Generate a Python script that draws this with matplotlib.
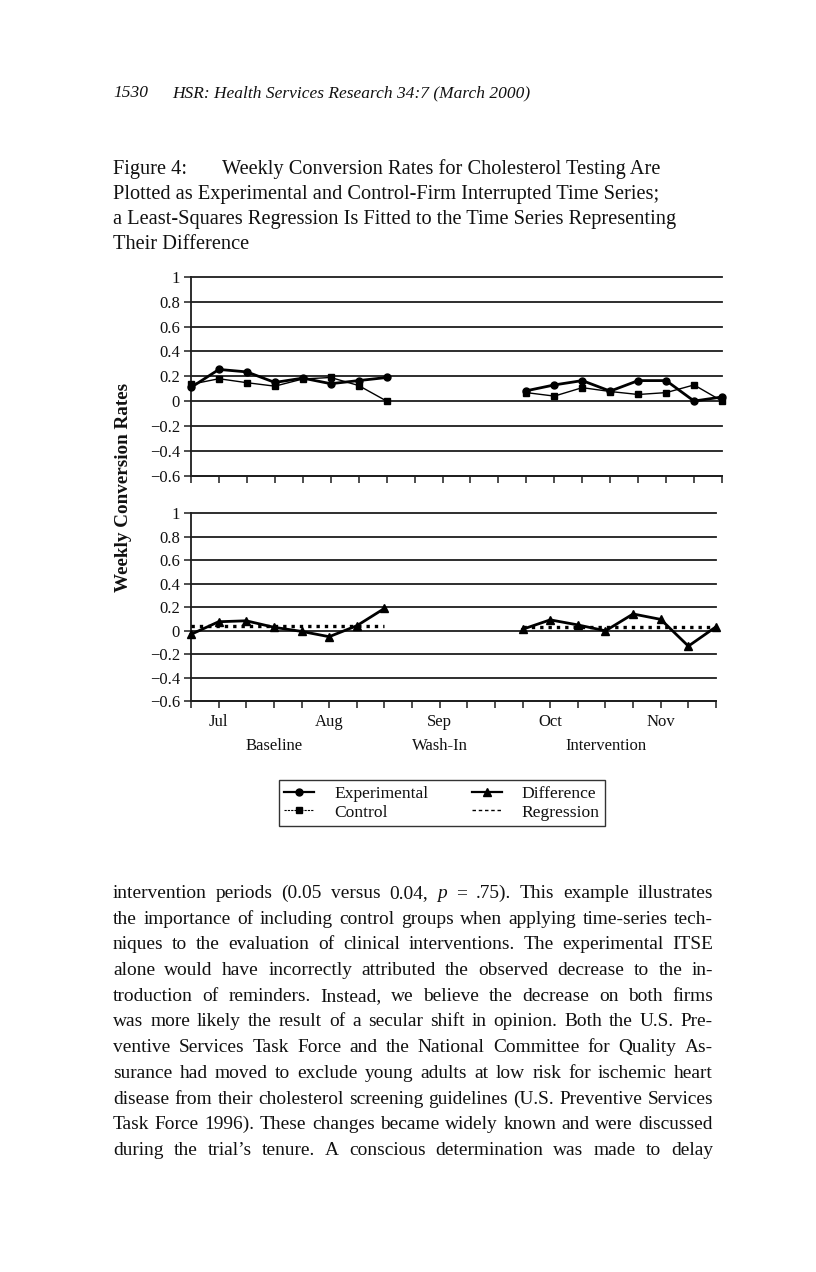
import matplotlib
matplotlib.use('Agg')
import matplotlib.pyplot as plt
import numpy as np
from matplotlib.lines import Line2D
from matplotlib.transforms import blended_transform_factory

W, H = 816, 1272
SERIF = ['Liberation Serif', 'DejaVu Serif']
INK = '#111111'

# ---------------- data ----------------
weeks = list(range(20))
base_weeks = [0, 1, 2, 3, 4, 5, 6, 7]
int_weeks = [12, 13, 14, 15, 16, 17, 18, 19]

exp_base = [0.11, 0.255, 0.235, 0.15, 0.185, 0.14, 0.165, 0.19]
ctrl_base = [0.135, 0.18, 0.148, 0.12, 0.178, 0.19, 0.125, 0.0]
exp_int = [0.083, 0.13, 0.165, 0.08, 0.165, 0.165, 0.0, 0.033]
ctrl_int = [0.068, 0.04, 0.108, 0.077, 0.053, 0.068, 0.13, 0.0]

diff_base = [-0.03, 0.077, 0.085, 0.03, -0.005, -0.05, 0.043, 0.19]
diff_int = [0.013, 0.093, 0.05, 0.0, 0.143, 0.097, -0.13, 0.034]

reg_base_weeks = [0, 7]
reg_base = [0.043, 0.043]
reg_int_weeks = [12, 19]
reg_int = [0.03, 0.03]

month_ticks = [1, 5, 9, 13, 17]
month_names = ['Jul', 'Aug', 'Sep', 'Oct', 'Nov']
phase_ticks = [3, 9, 15]
phase_names = ['Baseline', 'Wash-In', 'Intervention']

y_ticks = [-0.6, -0.4, -0.2, 0.0, 0.2, 0.4, 0.6, 0.8, 1.0]
y_tick_labels = ['\u22120.6', '\u22120.4', '\u22120.2', '0', '0.2', '0.4', '0.6', '0.8', '1']

header_num = '1530'
header_title = 'HSR: Health Services Research 34:7 (March 2000)'
caption_lead = 'Figure 4:'
caption_lines = [
    'Weekly Conversion Rates for Cholesterol Testing Are',
    'Plotted as Experimental and Control-Firm Interrupted Time Series;',
    'a Least-Squares Regression Is Fitted to the Time Series Representing',
    'Their Difference',
]
body_lines = [
    'intervention periods (0.05 versus 0.04, *p* = .75). This example illustrates',
    'the importance of including control groups when applying time-series tech-',
    'niques to the evaluation of clinical interventions. The experimental ITSE',
    'alone would have incorrectly attributed the observed decrease to the in-',
    'troduction of reminders. Instead, we believe the decrease on both firms',
    'was more likely the result of a secular shift in opinion. Both the U.S. Pre-',
    'ventive Services Task Force and the National Committee for Quality As-',
    'surance had moved to exclude young adults at low risk for ischemic heart',
    'disease from their cholesterol screening guidelines (U.S. Preventive Services',
    "Task Force 1996). These changes became widely known and were discussed",
    "during the trial\u2019s tenure. A conscious determination was made to delay",
]

# ---------------- figure ----------------
plt.rcParams['font.family'] = SERIF
plt.rcParams['text.color'] = INK
fig = plt.figure(figsize=(W / 100, H / 100), dpi=100)
fig.patch.set_facecolor('white')
renderer = fig.canvas.get_renderer()


def fx(x):
    return x / W


def fy(y):
    return 1 - y / H


def width_of(s, size, **kw):
    t = fig.text(0, 0, s, fontsize=size, family=SERIF, **kw)
    w = t.get_window_extent(renderer).width
    t.remove()
    return w


def put(s, x, ybase, size, **kw):
    return fig.text(fx(x), fy(ybase), s, fontsize=size, family=SERIF,
                    ha='left', va='baseline', color=INK, **kw)


# header
hsize = 13.0 * 355 / width_of(header_title, 13.0, style='italic')
put(header_num, 113, 97, hsize, style='italic')
put(header_title, 172, 97, hsize, style='italic')

# caption
csize = 14.0 * 565 / width_of(caption_lines[2], 14.0)
cap_base = [174, 199, 224, 249]
put(caption_lead, 113, cap_base[0], csize)
put(caption_lines[0], 222, cap_base[0], csize)
for line, yb in zip(caption_lines[1:], cap_base[1:]):
    put(line, 113, yb, csize)

# body text, justified
x0, x1 = 113, 713
maxw = max(width_of(l.replace('*', ''), 14.0) for l in body_lines)
bsize = min(14.2, 14.0 * 600 / maxw)
for i, line in enumerate(body_lines):
    yb = 898 + 25.7 * i
    words = []
    for w in line.split(' '):
        style = 'italic' if w.startswith('*') else 'normal'
        txt = w.strip('*')
        words.append((txt, style, width_of(txt, bsize, style=style)))
    total = sum(w[2] for w in words)
    gap = (x1 - x0 - total) / (len(words) - 1)
    x = x0
    for txt, style, wd in words:
        put(txt, x, yb, bsize, style=style)
        x += wd + gap

# y label
fig.text(fx(124), fy(487), 'Weekly Conversion Rates', rotation=90,
         fontsize=13.8, fontweight='bold', family=SERIF, ha='center',
         va='center', color=INK)

# ---------------- axes ----------------
ax1 = fig.add_axes([fx(191), fy(475.5), 531 / W, 198.5 / H])
ax2 = fig.add_axes([fx(191), fy(701.5), 525 / W, 188.5 / H])

for ax in (ax1, ax2):
    ax.set_xlim(0, 19)
    ax.set_ylim(-0.6, 1.0)
    for v in y_ticks:
        ax.axhline(v, color='#1e1e1e', lw=1.3, zorder=1, clip_on=False)
    ax.set_yticks(y_ticks)
    ax.set_yticklabels(y_tick_labels, fontsize=12, family=SERIF, color=INK)
    ax.set_xticks(weeks)
    ax.tick_params(axis='both', direction='out', length=5, width=1.1,
                   color='#1e1e1e', pad=3)
    for s in ('top', 'right'):
        ax.spines[s].set_visible(False)
    for s in ('left', 'bottom'):
        ax.spines[s].set_color('#1e1e1e')
        ax.spines[s].set_linewidth(1.3)
    ax.patch.set_alpha(0)

ax1.set_xticklabels([''] * len(weeks))
xlabels = [''] * len(weeks)
for t, n in zip(month_ticks, month_names):
    xlabels[t] = n
ax2.set_xticklabels(xlabels, fontsize=12, family=SERIF, color=INK)
ax2.tick_params(axis='x', pad=4)
tr = blended_transform_factory(ax2.transData, ax2.transAxes)
for t, n in zip(phase_ticks, phase_names):
    ax2.text(t, -0.236, n, transform=tr, ha='center', va='center',
             fontsize=12, family=SERIF, color=INK)

# top panel: experimental & control
exp_kw = dict(color='black', lw=2.0, marker='o', ms=5, zorder=4, clip_on=False)
ctl_kw = dict(color='black', lw=1.0, marker='s', ms=4.5, zorder=3, clip_on=False)
ax1.plot(base_weeks, exp_base, **exp_kw)
ax1.plot(int_weeks, exp_int, **exp_kw)
ax1.plot(base_weeks, ctrl_base, **ctl_kw)
ax1.plot(int_weeks, ctrl_int, **ctl_kw)

# bottom panel: difference & regression
dif_kw = dict(color='black', lw=2.0, marker='^', ms=6, zorder=4, clip_on=False)
reg_kw = dict(color='black', lw=2.4, ls=(0, (1.0, 1.5)), zorder=3,
              dash_capstyle='butt')
ax2.plot(base_weeks, diff_base, **dif_kw)
ax2.plot(int_weeks, diff_int, **dif_kw)
ax2.plot(reg_base_weeks, reg_base, **reg_kw)
ax2.plot(reg_int_weeks, reg_int, **reg_kw)

# legend
h_exp = Line2D([], [], color='black', lw=1.6, marker='o', ms=5)
h_ctl = Line2D([], [], color='black', lw=0.8, ls=(0, (2, 1)), marker='s', ms=4.5)
h_dif = Line2D([], [], color='black', lw=1.6, marker='^', ms=6)
h_reg = Line2D([], [], color='black', lw=1.0, ls=(0, (2.5, 2.0)))
leg = fig.legend([h_exp, h_ctl, h_dif, h_reg],
                 ['Experimental', 'Control', 'Difference', 'Regression'],
                 ncol=2, loc='center', bbox_to_anchor=(fx(442), fy(803)),
                 frameon=True, fancybox=False, edgecolor='#333333',
                 framealpha=1, borderpad=0.3, handlelength=1.7,
                 handletextpad=1.15, columnspacing=2.5, labelspacing=0.15,
                 prop={'family': SERIF, 'size': 12.6})
leg.get_frame().set_linewidth(1.0)
for t in leg.get_texts():
    t.set_color(INK)

fig.savefig('out.png', dpi=100, facecolor='white')
